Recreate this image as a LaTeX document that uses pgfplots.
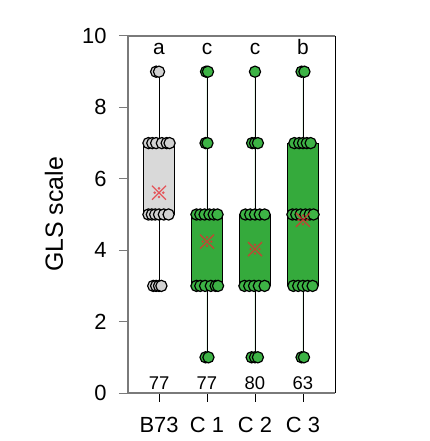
\documentclass[border=0pt]{standalone}
\usepackage{pgfplots}
\pgfplotsset{compat=1.18}
\usepgfplotslibrary{statistics}
\usepackage{fontspec}
\setmainfont{Liberation Sans}

\definecolor{boxgreen}{HTML}{35AA3C}
\definecolor{ptgreen}{HTML}{3DB345}
\definecolor{boxgray}{HTML}{D9D9D9}
\definecolor{ptgray}{HTML}{D2D2D2}
\definecolor{spine}{HTML}{7A7A7A}
\definecolor{meanred}{HTML}{E82A30}

% reference mark: an x with four dots
\pgfdeclareplotmark{refmark}{%
  \pgfpathmoveto{\pgfpoint{-\pgfplotmarksize}{-\pgfplotmarksize}}%
  \pgfpathlineto{\pgfpoint{\pgfplotmarksize}{\pgfplotmarksize}}%
  \pgfpathmoveto{\pgfpoint{-\pgfplotmarksize}{\pgfplotmarksize}}%
  \pgfpathlineto{\pgfpoint{\pgfplotmarksize}{-\pgfplotmarksize}}%
  \pgfusepathqstroke
  \pgfpathcircle{\pgfpoint{0pt}{0.62\pgfplotmarksize}}{0.2\pgfplotmarksize}%
  \pgfpathcircle{\pgfpoint{0pt}{-0.62\pgfplotmarksize}}{0.2\pgfplotmarksize}%
  \pgfpathcircle{\pgfpoint{0.62\pgfplotmarksize}{0pt}}{0.2\pgfplotmarksize}%
  \pgfpathcircle{\pgfpoint{-0.62\pgfplotmarksize}{0pt}}{0.2\pgfplotmarksize}%
  \pgfusepathqfill
}

% jittered scores
\pgfplotstableread{
x y
-0.06 9
0.00 9
-0.22 7
-0.14 7
-0.06 7
0.06 7
0.16 7
0.22 7
-0.22 5
-0.15 5
-0.08 5
0.00 5
0.10 5
0.20 5
-0.12 3
-0.06 3
0.00 3
0.05 3
}\ptsB
\pgfplotstableread{
x y
0.98 9
1.02 9
0.97 7
1.01 7
0.78 5
0.86 5
0.95 5
1.05 5
1.14 5
1.22 5
0.78 3
0.86 3
0.96 3
1.08 3
1.18 3
1.23 3
0.97 1
1.03 1
}\ptsCa
\pgfplotstableread{
x y
2.00 9
1.94 7
2.00 7
2.06 7
1.80 5
1.90 5
2.00 5
2.10 5
2.20 5
1.78 3
1.88 3
1.98 3
2.08 3
2.20 3
1.93 1
2.00 1
2.06 1
}\ptsCb
\pgfplotstableread{
x y
2.97 9
3.03 9
2.82 7
2.92 7
3.00 7
3.08 7
3.16 7
2.78 5
2.86 5
2.95 5
3.05 5
3.14 5
3.22 5
2.80 3
2.90 3
3.00 3
3.10 3
3.20 3
2.97 1
3.02 1
}\ptsCc

\begin{document}
\begin{tikzpicture}
\path[use as bounding box] (-128bp,-48bp) rectangle (302bp,393bp);
\begin{axis}[
  at={(0,0)}, anchor=south west,
  scale only axis,
  width=207bp, height=357bp,
  xmin=-0.646, xmax=3.667,
  ymin=0, ymax=10,
  axis x line*=bottom, axis y line*=left,
  x axis line style={draw=spine, line width=1.6bp},
  y axis line style={draw=spine, line width=1.6bp},
  xtick={0,1,2,3},
  xticklabels={B73,C 1,C 2,C 3},
  ytick={0,2,4,6,8,10},
  tick align=outside,
  major tick length=9bp,
  xtick style={black, line width=0.8bp},
  ytick style={spine, line width=1bp},
  tick label style={font=\fontsize{22}{26}\selectfont},
  xticklabel style={yshift=-12bp},
  yticklabel style={xshift=-9bp},
  /pgf/number format/assume math mode=true,
  boxplot/draw direction=y,
  boxplot/box extend=0.64,
  boxplot/whisker extend=0,
  clip=false,
]
% boxes
\addplot[draw=black, line width=0.8bp, fill=boxgray, boxplot prepared={
  draw position=0, lower whisker=3, lower quartile=5, median=5,
  upper quartile=7, upper whisker=9}] coordinates {};
\addplot[draw=black, line width=0.8bp, fill=boxgreen, boxplot prepared={
  draw position=1, lower whisker=1, lower quartile=3, median=3,
  upper quartile=5, upper whisker=9}] coordinates {};
\addplot[draw=black, line width=0.8bp, fill=boxgreen, boxplot prepared={
  draw position=2, lower whisker=1, lower quartile=3, median=3,
  upper quartile=5, upper whisker=9}] coordinates {};
\addplot[draw=black, line width=0.8bp, fill=boxgreen, boxplot prepared={
  draw position=3, lower whisker=1, lower quartile=3, median=5,
  upper quartile=7, upper whisker=9}] coordinates {};

% individual scores
\addplot[only marks, mark=*, mark size=5.6bp,
  mark options={draw=black, fill=ptgray, line width=1.2bp}] table {\ptsB};
\addplot[only marks, mark=*, mark size=5.6bp,
  mark options={draw=black, fill=ptgreen, line width=1.2bp}] table {\ptsCa};
\addplot[only marks, mark=*, mark size=5.6bp,
  mark options={draw=black, fill=ptgreen, line width=1.2bp}] table {\ptsCb};
\addplot[only marks, mark=*, mark size=5.6bp,
  mark options={draw=black, fill=ptgreen, line width=1.2bp}] table {\ptsCc};

% means
\addplot[only marks, mark=refmark, mark size=7bp,
  mark options={draw=meanred, fill=meanred, line width=1.3bp, opacity=0.75}]
  coordinates {(0,5.61) (1,4.24) (2,4.03) (3,4.85)};

% frame top and right
\draw[spine, line width=1.6bp] (rel axis cs:0,1) -- (rel axis cs:1,1);
\draw[black, line width=0.8bp] (rel axis cs:1,1) -- (rel axis cs:1,0);

% group letters and counts
\node[anchor=base, font=\fontsize{21}{25}\selectfont, inner sep=0pt] at (axis cs:0,9.47) {a};
\node[anchor=base, font=\fontsize{21}{25}\selectfont, inner sep=0pt] at (axis cs:1,9.47) {c};
\node[anchor=base, font=\fontsize{21}{25}\selectfont, inner sep=0pt] at (axis cs:2,9.47) {c};
\node[anchor=base, font=\fontsize{21}{25}\selectfont, inner sep=0pt] at (axis cs:3,9.47) {b};
\node[anchor=base, font=\fontsize{18.5}{22}\selectfont, inner sep=0pt] at (axis cs:0,0.1) {77};
\node[anchor=base, font=\fontsize{18.5}{22}\selectfont, inner sep=0pt] at (axis cs:1,0.1) {77};
\node[anchor=base, font=\fontsize{18.5}{22}\selectfont, inner sep=0pt] at (axis cs:2,0.1) {80};
\node[anchor=base, font=\fontsize{18.5}{22}\selectfont, inner sep=0pt] at (axis cs:3,0.1) {63};
\end{axis}
\node[rotate=90, font=\fontsize{25}{29}\selectfont] at (-74bp,178.5bp) {GLS scale};
\end{tikzpicture}
\end{document}
